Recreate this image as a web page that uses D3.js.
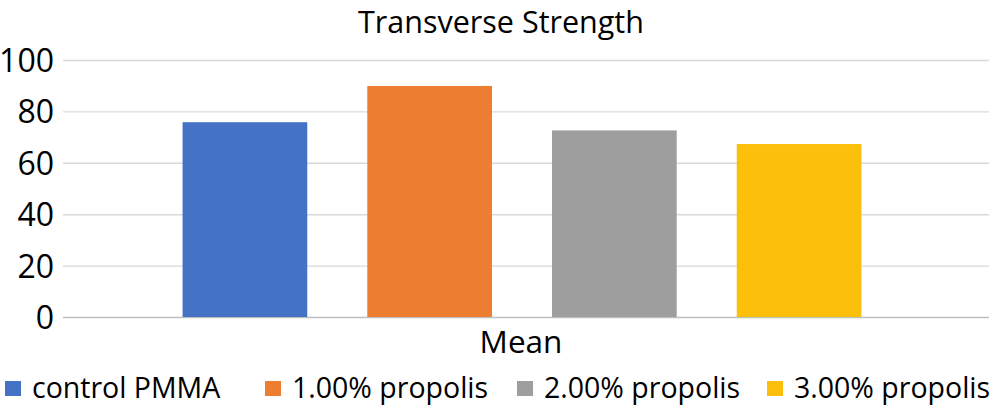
<!DOCTYPE html>
<html><head><meta charset="utf-8">
<script src="https://cdn.jsdelivr.net/npm/d3@7"></script>
<style>
html,body{margin:0;padding:0;background:#fff;}
svg text{font-family:"Open Sans","Noto Sans",sans-serif;fill:#000;}
</style></head>
<body>
<script>
const title = "Transverse Strength";
const categories = ["Mean"];
const seriesNames = ["control PMMA", "1.00% propolis", "2.00% propolis", "3.00% propolis"];
const seriesValues = [75.8, 89.9, 72.6, 67.3];
const seriesColors = ["#4472C4", "#ED7D31", "#9E9E9E", "#FCBF0B"];
const yTicks = [0, 20, 40, 60, 80, 100];

const W = 992, H = 405;
const svg = d3.select("body").append("svg").attr("width", W).attr("height", H);

const plot = {left: 63, right: 989, top: 60, bottom: 317};
const y = d3.scaleLinear().domain([0, 100]).range([plot.bottom, plot.top]);
const x0 = d3.scaleBand().domain(categories).range([plot.left, plot.right]).padding(0);
const x1 = d3.scaleBand().domain(seriesNames)
  .range([x0(categories[0]) - 4, x0(categories[0]) + x0.bandwidth() - 4])
  .paddingInner(0.325).paddingOuter(0.669);

// gridlines + tick labels
const yAxis = d3.axisLeft(y).tickValues(yTicks).tickSize(-(plot.right - plot.left)).tickPadding(9);
const gy = svg.append("g").attr("transform", `translate(${plot.left},0)`).call(yAxis);
gy.select(".domain").remove();
gy.selectAll(".tick line").attr("stroke", d => d === 0 ? "#bfbfbf" : "#d9d9d9").attr("stroke-width", 1.4);
gy.selectAll(".tick text").attr("font-size", 32).attr("fill", "#000").attr("dy", "0.36em")
  .style("font-family", '"Open Sans","Noto Sans",sans-serif');

// bars
svg.append("g").selectAll("rect").data(seriesNames).join("rect")
  .attr("x", d => x1(d))
  .attr("width", x1.bandwidth())
  .attr("y", (d, i) => y(seriesValues[i]))
  .attr("height", (d, i) => y(0) - y(seriesValues[i]))
  .attr("fill", (d, i) => seriesColors[i]);

// category label
svg.append("text")
  .attr("x", 521).attr("y", 353)
  .attr("text-anchor", "middle").attr("font-size", 31.5).text(categories[0]);

// title
svg.append("text")
  .attr("x", 501).attr("y", 33)
  .attr("text-anchor", "middle").attr("font-size", 30.5).text(title);

// legend
const legendX = [5, 265, 517, 767];
const lg = svg.append("g").selectAll("g").data(seriesNames).join("g")
  .attr("transform", (d, i) => `translate(${legendX[i]},381)`);
lg.append("rect").attr("width", 16).attr("height", 15).attr("fill", (d, i) => seriesColors[i]);
lg.append("text").attr("x", 27).attr("y", 17)
  .attr("font-size", 28.5).text(d => d);
</script>
</body></html>
